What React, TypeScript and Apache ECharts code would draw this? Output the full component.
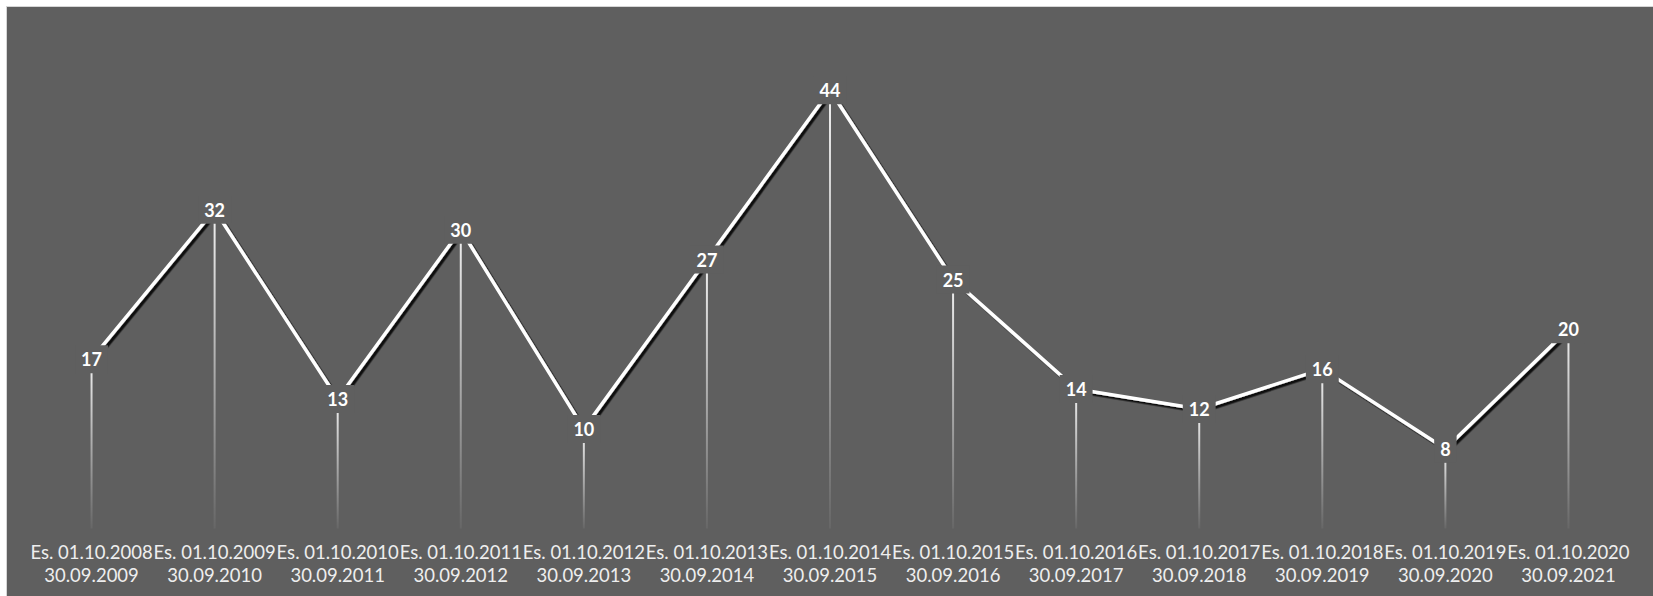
import React, { useEffect, useRef } from "react";
import * as echarts from "echarts";

const categories = [
  "Es. 01.10.2008\n30.09.2009",
  "Es. 01.10.2009\n30.09.2010",
  "Es. 01.10.2010\n30.09.2011",
  "Es. 01.10.2011\n30.09.2012",
  "Es. 01.10.2012\n30.09.2013",
  "Es. 01.10.2013\n30.09.2014",
  "Es. 01.10.2014\n30.09.2015",
  "Es. 01.10.2015\n30.09.2016",
  "Es. 01.10.2016\n30.09.2017",
  "Es. 01.10.2017\n30.09.2018",
  "Es. 01.10.2018\n30.09.2019",
  "Es. 01.10.2019\n30.09.2020",
  "Es. 01.10.2020\n30.09.2021",
];
const values = [17, 32, 13, 30, 10, 27, 44, 25, 14, 12, 16, 8, 20];

const BG = "#5f5f5f";

export default function App() {
  const ref = useRef<HTMLDivElement>(null);
  useEffect(() => {
    if (!ref.current) return;
    const chart = echarts.init(ref.current, undefined, { renderer: "svg" });
    chart.setOption({
      animation: false,
      backgroundColor: "transparent",
      grid: { left: 30, right: 23, top: 30.5, bottom: 67.5 },
      xAxis: {
        type: "category",
        data: categories,
        boundaryGap: true,
        axisLine: { show: false },
        axisTick: { show: false },
        splitLine: { show: false },
        axisLabel: {
          interval: 0,
          color: "#eeeeee",
          fontFamily: "Lato",
          fontSize: 18.5,
          lineHeight: 23,
          margin: 12,
        },
      },
      yAxis: {
        type: "value",
        min: 0,
        max: 50,
        show: false,
        splitLine: { show: false },
      },
      series: [
        {
          type: "bar",
          data: values,
          barWidth: 2,
          z: 1,
          silent: true,
          itemStyle: {
            color: new echarts.graphic.LinearGradient(0, 0, 0, 1, [
              { offset: 0, color: "rgba(255,255,255,0.92)" },
              { offset: 1, color: "rgba(255,255,255,0.05)" },
            ]),
          },
        },
        {
          type: "line",
          data: values,
          z: 3,
          symbol: "circle",
          symbolSize: 1,
          itemStyle: { color: "rgba(0,0,0,0)" },
          lineStyle: {
            color: "#ffffff",
            width: 3.5,
            shadowColor: "rgba(0,0,0,0.85)",
            shadowBlur: 1,
            shadowOffsetX: 2.5,
            shadowOffsetY: 2.5,
          },
          label: {
            show: true,
            position: "inside",
            color: "#ffffff",
            fontFamily: "Lato",
            fontWeight: "bold",
            fontSize: 18,
            lineHeight: 16,
            backgroundColor: BG,
            padding: [6, 6, 6, 6],
          },
        },
      ],
    });
    return () => chart.dispose();
  }, []);
  return (
    <div style={{ position: "fixed", left: 0, top: 0, width: 1653, height: 596, background: "#ffffff" }}>
      <div
        style={{
          position: "absolute",
          left: 6,
          top: 6,
          right: 0,
          bottom: 0,
          background: BG,
          borderLeft: "1px solid #d6d6d6",
          borderTop: "1px solid #d6d6d6",
        }}
      />
      <div ref={ref} style={{ position: "absolute", left: 0, top: 0, width: 1653, height: 596 }} />
    </div>
  );
}
